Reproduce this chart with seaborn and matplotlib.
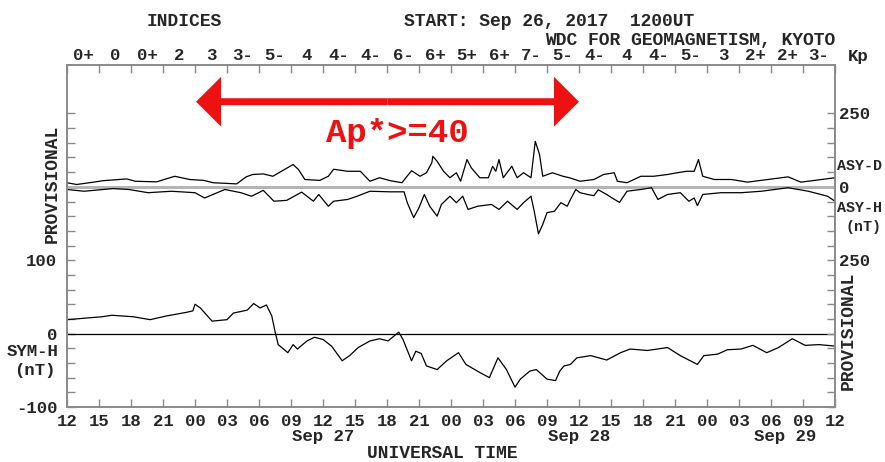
import numpy as np
import pandas as pd
import matplotlib
matplotlib.use("Agg")
import matplotlib.pyplot as plt
import matplotlib.transforms as mtransforms
from matplotlib.patches import FancyArrow
import seaborn as sns

# ---------------- data (hours since Sep 26 2017 12UT) ----------------
asyd_hours = [0, 0.9, 2.5, 3.4, 5.6, 6.4, 8.4, 10.1, 11.5, 12.8, 13.7, 15.9, 16.8, 17.4,
              18.4, 19.3, 20.1, 21.2, 21.7, 22.3, 23.7, 24.5, 25.0, 26.3, 27.5, 28.4,
              29.3, 30.3, 31.4, 32.3, 33.1, 33.7, 34.2, 34.3, 34.7, 35.3, 35.9, 36.5,
              36.9, 37.5, 37.9, 38.7, 39.5, 39.9, 40.2, 40.5, 40.9, 41.7, 42.2, 42.8,
              43.5, 43.9, 44.3, 44.6, 45.5, 46.5, 47.1, 48.1, 49.4, 50.3, 51.3, 51.6,
              52.5, 53.8, 55.0, 56.3, 57.2, 58.1, 58.8, 59.2, 59.6, 60.7, 62.3, 63.8,
              65.7, 67.6, 68.8, 70.1, 72.0]
asyd_values = [14, 8, 16, 21, 27, 19, 17, 36, 25, 22, 14, 10, 34, 42,
               44, 36, 53, 76, 59, 25, 22, 36, 60, 53, 53, 19,
               31, 21, 14, 55, 36, 48, 82, 104, 87, 53, 31, 48,
               19, 93, 65, 31, 31, 70, 53, 93, 31, 70, 31, 48,
               31, 155, 110, 36, 48, 36, 31, 19, 25, 42, 48, 19,
               14, 36, 36, 42, 48, 53, 53, 93, 36, 25, 25, 16,
               25, 34, 16, 22, 31]

asyh_hours = [0, 1.6, 4.3, 5.8, 7.6, 9.8, 12.0, 12.9, 14.8, 16.3, 17.3, 18.4, 19.4,
              20.6, 22.0, 23.1, 23.6, 24.5, 25.0, 26.3, 27.2, 28.4, 30.3, 31.6, 31.9,
              32.5, 33.0, 33.5, 34.0, 34.7, 35.1, 35.9, 36.5, 37.1, 37.6, 38.5, 39.8,
              40.5, 41.3, 42.2, 42.8, 43.5, 43.8, 44.2, 44.6, 45.0, 45.7, 46.3, 46.9,
              47.2, 47.7, 48.1, 48.8, 49.4, 49.8, 50.6, 51.1, 51.8, 52.5, 53.8, 54.8,
              55.4, 56.3, 57.5, 58.3, 58.8, 59.1, 59.6, 61.3, 63.2, 65.1, 67.6, 69.5,
              71.3, 72.0]
asyh_values = [9, 15, 6, 9, 20, 15, 20, 38, 9, 20, 32, 12, 49,
               46, 18, 49, 26, 66, 49, 43, 32, 15, 17, 17, 54,
               105, 71, 26, 66, 100, 60, 32, 54, 32, 77, 66, 60,
               77, 49, 77, 54, 32, 83, 160, 128, 88, 83, 54, 66,
               43, 9, 20, 26, 30, 10, 26, 38, 53, 15, 9, 3,
               43, 26, 20, 49, 38, 64, 26, 20, 20, 15, 3, 15,
               32, 49]

symh_hours = [0, 3.3, 4.2, 6.2, 7.8, 9.3, 11.2, 11.8, 12.0, 12.5, 13.6, 15.0, 15.6,
              16.9, 17.5, 18.1, 18.7, 19.2, 19.5, 19.8, 20.3, 20.7, 21.2, 21.6, 22.5,
              23.2, 24.0, 24.8, 25.8, 26.5, 27.3, 28.4, 29.3, 30.1, 31.1, 31.5, 32.3,
              32.7, 33.2, 33.7, 34.7, 35.6, 36.7, 37.4, 38.7, 39.6, 40.4, 41.2, 42.0,
              42.5, 43.4, 44.0, 45.0, 45.8, 46.2, 46.6, 47.2, 47.8, 49.1, 50.6, 51.9,
              52.8, 54.4, 56.3, 57.5, 59.1, 59.7, 61.0, 61.9, 63.2, 64.3, 65.6, 66.7,
              68.0, 69.2, 70.5, 72.0]
symh_values = [19, 23, 25, 23, 19, 24, 29, 31, 40, 35, 17, 19, 28,
               32, 41, 35, 39, 24, 3, -15, -21, -26, -15, -21, -10,
               -5, -8, -17, -37, -30, -19, -10, -7, -10, 2, -8, -37,
               -24, -27, -44, -49, -37, -26, -42, -53, -60, -33, -49, -73,
               -62, -51, -49, -62, -64, -51, -44, -42, -33, -30, -36, -26,
               -21, -23, -19, -30, -42, -30, -28, -22, -21, -16, -26, -19,
               -7, -16, -15, -17]

kp_labels = ["0+", "0", "0+", "2", "3", "3-", "5-", "4", "4-", "4-", "6-", "6+",
             "5+", "6+", "7-", "5-", "4-", "4", "4-", "5-", "3", "2+", "2+", "3-"]
hour_labels = ["12", "15", "18", "21", "00", "03", "06", "09", "12", "15", "18", "21",
               "00", "03", "06", "09", "12", "15", "18", "21", "00", "03", "06", "09", "12"]
day_labels = ["Sep 27", "Sep 28", "Sep 29"]
day_label_hours = [24, 48, 67.3]
ap_period = [12.1, 48.0]   # hours where Ap* >= 40

# ---------------- style ----------------
sns.set_style("white")
plt.rcParams["font.family"] = ["Liberation Mono", "DejaVu Sans"]
plt.rcParams["font.weight"] = "bold"

W, H = 885, 462
fig = plt.figure(figsize=(W / 100, H / 100), dpi=100)
ax = fig.add_axes([67 / W, 1 - 407 / H, (835 - 67) / W, (407 - 64.5) / H])

def ptext(x, y, s, **kw):
    fig.text(x / W, 1 - y / H, s, **kw)

GRAY = "#8a8a8a"
RED = "#ee1111"
FS = 12.5

# SYM-H axis (left)
sym_lo, sym_hi = -100, 366.7
asy_zero = 200.0     # SYM-H level of the ASY zero line
ratio = 2.5          # ASY nT per SYM-H nT on the page
ax.set_xlim(0, 72)
ax.set_ylim(sym_lo, sym_hi)

sns.lineplot(x=symh_hours, y=symh_values, ax=ax, color="black", linewidth=0.9,
             estimator=None, errorbar=None)
ax.axhline(0, color="black", linewidth=0.9, zorder=1)

# ASY axis (right)
ax2 = ax.twinx()
ax2.set_ylim((sym_lo - asy_zero) * ratio, (sym_hi - asy_zero) * ratio)
ax2.axhline(0, color="#b5b5b5", linewidth=2.2, zorder=1)
sns.lineplot(x=asyd_hours, y=asyd_values, ax=ax2, color="black", linewidth=0.9,
             estimator=None, errorbar=None)
sns.lineplot(x=asyh_hours, y=-np.array(asyh_values), ax=ax2, color="black", linewidth=0.9,
             estimator=None, errorbar=None)

for a in (ax, ax2):
    a.set_xlabel("")
    a.set_ylabel("")
    for sp in a.spines.values():
        sp.set_color(GRAY)
        sp.set_linewidth(1.2)

# x ticks
ax.set_xticks(np.arange(0, 73, 3))
ax.set_xticklabels(hour_labels, fontsize=FS, fontweight="bold")
ax.tick_params(axis="x", direction="in", length=6, width=1, color=GRAY, top=True,
               bottom=True, labeltop=False, pad=5)

# left y ticks
lt = np.arange(-100, 301, 20)
ax.set_yticks(lt)
ax.set_yticklabels([str(v) if v in (-100, 0, 100) else "" for v in lt],
                   fontsize=FS, fontweight="bold")
ax.tick_params(axis="y", direction="in", length=6, width=1, color=GRAY, left=True,
               right=False, pad=7)

# right y ticks
rt = np.arange(-750, 251, 50)
ax2.set_yticks(rt)
ax2.set_yticklabels([str(abs(v)) if v in (250, 0, -250) else "" for v in rt],
                    fontsize=FS, fontweight="bold")
ax2.tick_params(axis="y", direction="in", length=6, width=1, color=GRAY, right=True,
                pad=3)

# Kp labels on top
tr_top = mtransforms.blended_transform_factory(ax.transData, fig.transFigure)
for i, k in enumerate(kp_labels):
    ax.text(1.5 + 3 * i, 1 - 56 / H, k, transform=tr_top, ha="center", va="center",
            fontsize=FS, fontweight="bold")
ptext(858, 56, "Kp", ha="center", va="center", fontsize=FS, fontweight="bold")

# date labels
for h, d in zip(day_label_hours, day_labels):
    ax.text(h, 1 - 437 / H, d, transform=tr_top, ha="center", va="center",
            fontsize=FS, fontweight="bold")

# titles
ptext(184, 22, "INDICES", ha="center", va="center", fontsize=13, fontweight="bold")
ptext(404, 22, "START: Sep 26, 2017  1200UT", ha="left", va="center", fontsize=13,
      fontweight="bold")
ptext(835, 41, "WDC FOR GEOMAGNETISM, KYOTO", ha="right", va="center", fontsize=13,
      fontweight="bold")
ptext(442, 453, "UNIVERSAL TIME", ha="center", va="center", fontsize=13, fontweight="bold")

# side labels
ptext(52, 184, "PROVISIONAL", rotation=90, ha="center", va="center", fontsize=13,
      fontweight="bold")
ptext(848, 331, "PROVISIONAL", rotation=90, ha="center", va="center", fontsize=13,
      fontweight="bold")
ptext(33, 352, "SYM-H", ha="center", va="center", fontsize=FS, fontweight="bold")
ptext(35, 371, "(nT)", ha="center", va="center", fontsize=FS, fontweight="bold")
ptext(837, 166, "ASY-D", ha="left", va="center", fontsize=10.8, fontweight="bold")
ptext(837, 208, "ASY-H", ha="left", va="center", fontsize=10.8, fontweight="bold")
ptext(845, 227, "(nT)", ha="left", va="center", fontsize=10.8, fontweight="bold")

# red double arrow marking the Ap*>=40 period
arrow_y = 316
mid = (ap_period[0] + ap_period[1]) / 2
for end in ap_period:
    ax.add_patch(FancyArrow(mid, arrow_y, end - mid, 0, width=9.5, head_width=68,
                            head_length=2.35, length_includes_head=True,
                            color=RED, linewidth=0, zorder=5))
ax.text(31.0, 261, "Ap*>=40", color=RED, fontsize=24.5, fontweight="bold",
        ha="center", va="baseline", zorder=5)

fig.savefig("out.png", dpi=100)
